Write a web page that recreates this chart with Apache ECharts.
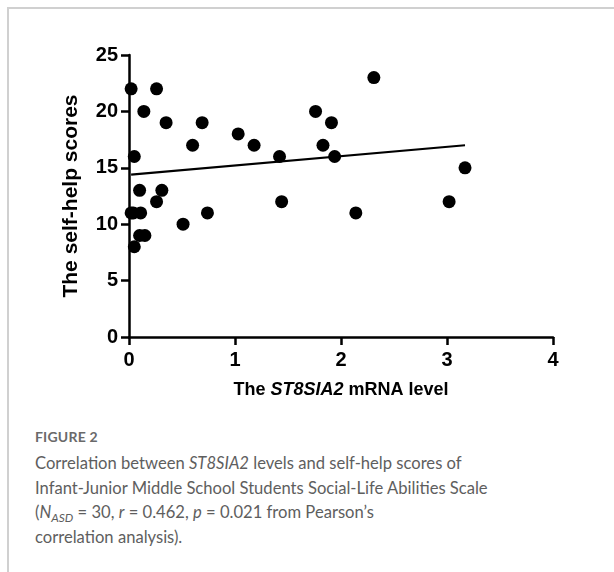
<!DOCTYPE html>
<html>
<head>
<meta charset="utf-8">
<script src="https://cdn.jsdelivr.net/npm/echarts@6/dist/echarts.min.js"></script>
<style>
  html, body { margin: 0; padding: 0; background: #fff; }
  #wrap { position: relative; width: 614px; height: 572px; overflow: hidden; }
  #frame { position: absolute; left: 7px; top: 7px; right: -10px; bottom: -10px;
           border-left: 2px solid #d0d0d0; border-top: 2px solid #d0d0d0; }
  #chart { position: absolute; left: 0; top: 0; width: 614px; height: 420px; }
  #caption { position: absolute; left: 35px; top: 428px; width: 560px;
             font-family: Lato, "Open Sans", sans-serif; color: #5e5e5e; }
  #caption .fig { font-size: 14px; font-weight: bold; color: #6a6a6a; letter-spacing: 0.2px; }
  #caption .txt { font-size: 16.6px; line-height: 24.5px; margin-top: 6px; }
  #caption sub { font-size: 12px; vertical-align: -4px; line-height: 0; }
</style>
</head>
<body>
<div id="wrap">
  <div id="frame"></div>
  <div id="chart"></div>
  <div id="caption">
    <div class="fig">FIGURE 2</div>
    <div class="txt">Correlation between <i>ST8SIA2</i> levels and self-help scores of<br>Infant-Junior Middle School Students Social-Life Abilities Scale<br>(<i>N</i><sub><i>ASD</i></sub> = 30, <i>r</i> = 0.462, <i>p</i> = 0.021 from Pearson’s<br>correlation analysis).</div>
  </div>
</div>
<script>
  'use strict';

  // ST8SIA2 mRNA level (x) and self-help score (y)
  var mrnaLevel = [0.02, 0.26, 0.14, 0.35, 0.69, 0.60, 1.03, 1.18, 1.42, 0.05,
                   0.10, 0.31, 0.26, 1.44, 0.04, 0.11, 0.74, 0.51, 0.05, 0.10,
                   0.15, 2.31, 1.76, 1.91, 1.83, 1.94, 3.17, 3.02, 2.14, 0.02];
  var selfHelp  = [22, 22, 20, 19, 19, 17, 18, 17, 16, 16,
                   13, 13, 12, 12, 11, 11, 11, 10, 8, 9,
                   9, 23, 20, 19, 17, 16, 15, 12, 11, 11];

  // fitted line end points
  var fitX = [0.02, 3.17];
  var fitY = [14.4, 17.0];

  var xTicks = [0, 1, 2, 3, 4];
  var yTicks = [0, 5, 10, 15, 20, 25];

  var points = mrnaLevel.map(function (x, i) { return [x, selfHelp[i]]; });
  var fitLine = fitX.map(function (x, i) { return [x, fitY[i]]; });

  var axisFont = 'Liberation Sans, Arial, sans-serif';
  var axisLine = { lineStyle: { color: '#000', width: 2.5 } };
  var axisTick = { length: 8, lineStyle: { color: '#000', width: 2.5 } };

  var myChart = echarts.init(document.getElementById('chart'));
  myChart.setOption({
    animation: false,
    grid: { left: 129, right: 61, top: 55, height: 282 },
    xAxis: {
      type: 'value',
      min: xTicks[0],
      max: xTicks[xTicks.length - 1],
      interval: 1,
      splitLine: { show: false },
      axisLine: axisLine,
      axisTick: axisTick,
      axisLabel: { color: '#000', fontSize: 20, fontWeight: 'bold', fontFamily: axisFont, margin: 13 },
      name: 'The {i|ST8SIA2} mRNA level',
      nameLocation: 'middle',
      nameGap: 44,
      nameTextStyle: {
        color: '#000', fontSize: 18, fontWeight: 'bold', fontFamily: axisFont,
        rich: { i: { fontStyle: 'italic', fontSize: 18, fontWeight: 'bold', fontFamily: axisFont, color: '#000' } }
      }
    },
    yAxis: {
      type: 'value',
      min: yTicks[0],
      max: yTicks[yTicks.length - 1],
      interval: 5,
      splitLine: { show: false },
      axisLine: axisLine,
      axisTick: axisTick,
      axisLabel: { color: '#000', fontSize: 20, fontWeight: 'bold', fontFamily: axisFont, margin: 11 },
      name: 'The self-help scores',
      nameLocation: 'middle',
      nameGap: 47,
      nameTextStyle: { color: '#000', fontSize: 21, fontWeight: 'bold', fontFamily: axisFont }
    },
    series: [
      {
        type: 'scatter',
        data: points,
        symbolSize: 13,
        itemStyle: { color: '#000', opacity: 1 }
      },
      {
        type: 'line',
        data: fitLine,
        symbol: 'none',
        lineStyle: { color: '#000', width: 2.2 }
      }
    ]
  });
</script>
</body>
</html>
